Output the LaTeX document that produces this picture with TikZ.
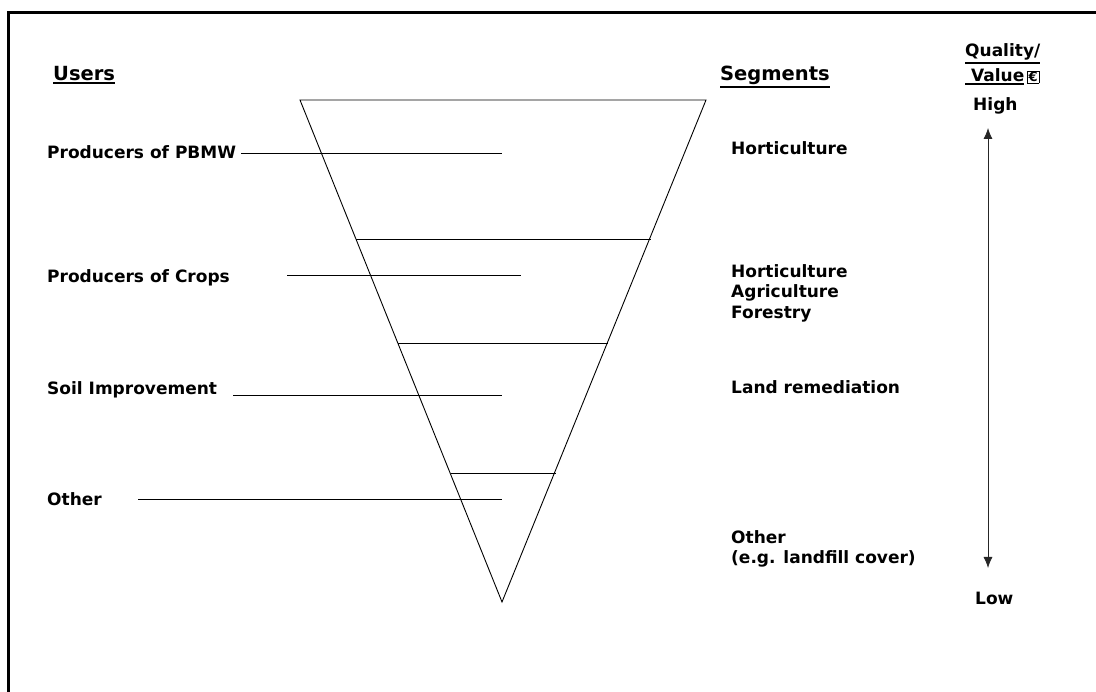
\documentclass[tikz,border=0pt]{standalone}
\usepackage{fontspec}
\setmainfont{DejaVu Sans}
\usetikzlibrary{arrows.meta}
\tikzset{
  lbl/.style={anchor=base west, inner sep=0pt, align=left, font=\bfseries\fontsize{17}{20.5}\selectfont},
  head/.style={lbl, font=\bfseries\fontsize{19.5}{22}\selectfont},
  leader/.style={line width=0.9pt},
  funnel/.style={line width=0.9pt},
  scalearrow/.style={{Latex[length=11pt,width=9pt]}-{Latex[length=11pt,width=9pt]}, line width=0.8pt, black!85}
}
\newcommand{\headul}[1]{\vtop{\hbox{#1}\kern1.2pt\hrule height 2pt}}
\newcommand{\euro}{\fboxsep=0.8pt\fboxrule=0.8pt\fbox{\fontsize{13}{13}\selectfont €}}

\begin{document}
\begin{tikzpicture}[x=1pt,y=-1pt]
\useasboundingbox (0,0) rectangle (1096,692);
% frame
\draw[line width=2.2pt] (8.5,692) -- (8.5,12.5) -- (1096,12.5);
% headings
\node[head] (users) at (53,81) {\headul{Users}};
\node[head] (segs) at (720,81) {\headul{Segments}};
\node[lbl] (qual) at (965,57) {\headul{Quality/}};
\node[lbl] (val) at (965,82) {\headul{\ Value}\,\euro};
% funnel
\coordinate (tl) at (300,100);
\coordinate (tr) at (706,100);
\coordinate (tip) at (502,602);
\draw[funnel] (tl) -- (tr) -- (tip) -- cycle;
\draw[funnel] (356,239) -- (651,239);
\draw[funnel] (398,343) -- (608,343);
\draw[funnel] (451,473) -- (556,473);
% users
\node[lbl] (pbmw) at (47,159) {Producers of PBMW};
\node[lbl] (crops) at (47,283) {Producers of Crops};
\node[lbl] (soil) at (47,395) {Soil Improvement};
\node[lbl] (other) at (47,506) {Other};
\coordinate (p1) at (241,153);
\coordinate (p2) at (502,153);
\coordinate (c1) at (287,275);
\coordinate (c2) at (521,275);
\coordinate (s1) at (233,395);
\coordinate (s2) at (502,395);
\coordinate (o1) at (138,499);
\coordinate (o2) at (502,499);
\draw[leader] (p1) -- (p2);
\draw[leader] (c1) -- (c2);
\draw[leader] (s1) -- (s2);
\draw[leader] (o1) -- (o2);
% segments
\node[lbl] (hort) at (731,155) {Horticulture};
\node[lbl, anchor=north west] (mix) at (731,264) {Horticulture\\Agriculture\\Forestry};
\node[lbl] (land) at (731,394) {Land remediation};
\node[lbl, anchor=north west] (rest) at (731,530) {Other\\(e.g. landfill cover)};
% scale
\node[lbl] (high) at (973,111) {High};
\node[lbl] (low) at (975,605) {Low};
\coordinate (hi) at (988,128);
\coordinate (lo) at (988,568);
\draw[scalearrow] (hi) -- (lo);
\end{tikzpicture}
\end{document}
